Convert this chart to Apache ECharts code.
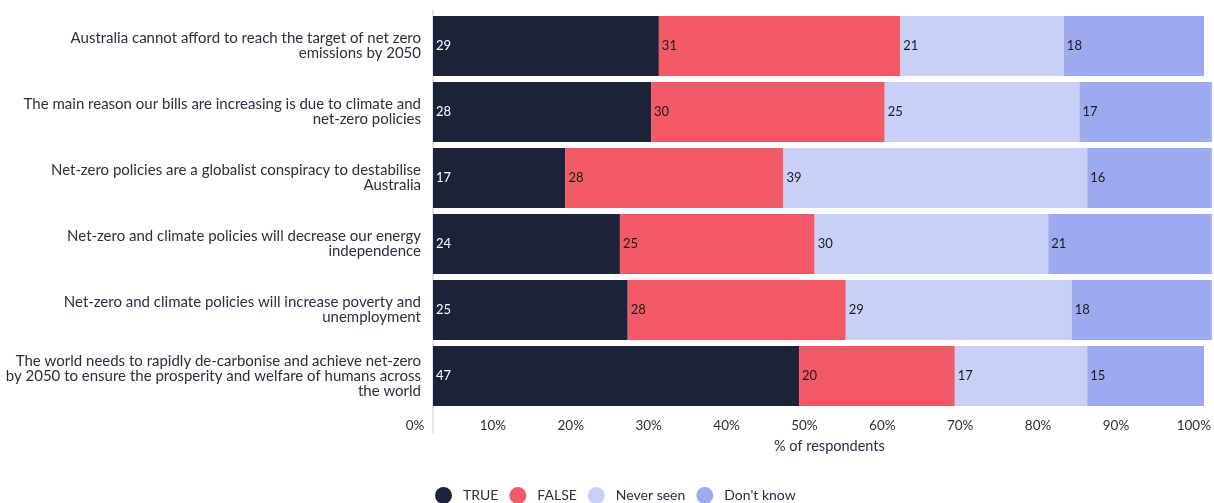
<!DOCTYPE html>
<html>
<head>
<meta charset="utf-8">
<script src="https://cdn.jsdelivr.net/npm/echarts@6/dist/echarts.min.js"></script>
<style>
  html, body { margin: 0; padding: 0; background: #ffffff; }
  #chart { width: 1214px; height: 503px; }
</style>
</head>
<body>
<div id="chart"></div>
<script>
// Survey statements (top to bottom)
const statements = [
  'Australia cannot afford to reach the target of net zero\nemissions by 2050',
  'The main reason our bills are increasing is due to climate and\nnet-zero policies',
  'Net-zero policies are a globalist conspiracy to destabilise\nAustralia',
  'Net-zero and climate policies will decrease our energy\nindependence',
  'Net-zero and climate policies will increase poverty and\nunemployment',
  'The world needs to rapidly de-carbonise and achieve net-zero\nby 2050 to ensure the prosperity and welfare of humans across\nthe world'
];

// Share of respondents (%) per answer
const trueVals      = [29, 28, 17, 24, 25, 47];
const falseVals     = [31, 30, 28, 25, 28, 20];
const neverSeenVals = [21, 25, 39, 30, 29, 17];
const dontKnowVals  = [18, 17, 16, 21, 18, 15];

const answerNames = ['TRUE', 'FALSE', 'Never seen', "Don't know"];
const answerColors = ['#1c2238', '#f35a68', '#c9d0f7', '#9eaaef'];
const labelColors = ['#ffffff', '#1a1a1a', '#1a1a1a', '#1a1a1a'];
const seriesValues = [trueVals, falseVals, neverSeenVals, dontKnowVals];

const FONT = 'Lato, "Noto Sans", sans-serif';
const TEXT = '#2a2f40';

const chart = echarts.init(document.getElementById('chart'), null, { renderer: 'canvas' });

chart.setOption({
  animation: false,
  textStyle: { fontFamily: FONT },
  grid: [
    { left: 433, right: 0, top: 13, height: 396 },
    { left: 433, width: 1, top: 10, height: 423 }
  ],
  xAxis: [
    {
      gridIndex: 0,
      type: 'value',
      min: 0,
      max: 100,
      interval: 10,
      splitLine: { show: false },
      axisLine: { show: false },
      axisTick: { show: false },
      axisLabel: {
        formatter: '{value}%',
        color: TEXT,
        fontSize: 13.5,
        fontFamily: FONT,
        margin: 10,
        padding: [0, 36, 0, 0]
      },
      name: '% of respondents',
      nameLocation: 'middle',
      nameGap: 30,
      nameTextStyle: { color: TEXT, fontSize: 14.5, fontFamily: FONT, padding: [0, 0, 0, 14] }
    },
    { gridIndex: 1, type: 'value', show: false }
  ],
  yAxis: [
    {
      gridIndex: 0,
      type: 'category',
      inverse: true,
      data: statements,
      axisLine: { show: false },
      axisTick: { show: false },
      axisLabel: {
        color: TEXT,
        fontSize: 15,
        fontFamily: FONT,
        lineHeight: 15,
        align: 'right',
        margin: 12
      }
    },
    {
      gridIndex: 1,
      type: 'value',
      axisLine: { show: true, lineStyle: { color: '#dcdde2', width: 1.5 } },
      axisTick: { show: false },
      axisLabel: { show: false },
      splitLine: { show: false }
    }
  ],
  legend: {
    left: 430,
    top: 482,
    icon: 'circle',
    itemWidth: 17,
    itemHeight: 17,
    itemGap: 11,
    textStyle: { color: TEXT, fontSize: 14, fontFamily: FONT, padding: [0, 0, 0, 6] },
    data: answerNames
  },
  series: seriesValues.map((vals, i) => ({
    name: answerNames[i],
    type: 'bar',
    stack: 'total',
    xAxisIndex: 0,
    yAxisIndex: 0,
    barCategoryGap: '9%',
    data: vals,
    itemStyle: { color: answerColors[i] },
    label: {
      show: true,
      position: 'insideLeft',
      distance: 3,
      color: labelColors[i],
      fontSize: 13,
      fontFamily: FONT
    }
  }))
});
</script>
</body>
</html>
